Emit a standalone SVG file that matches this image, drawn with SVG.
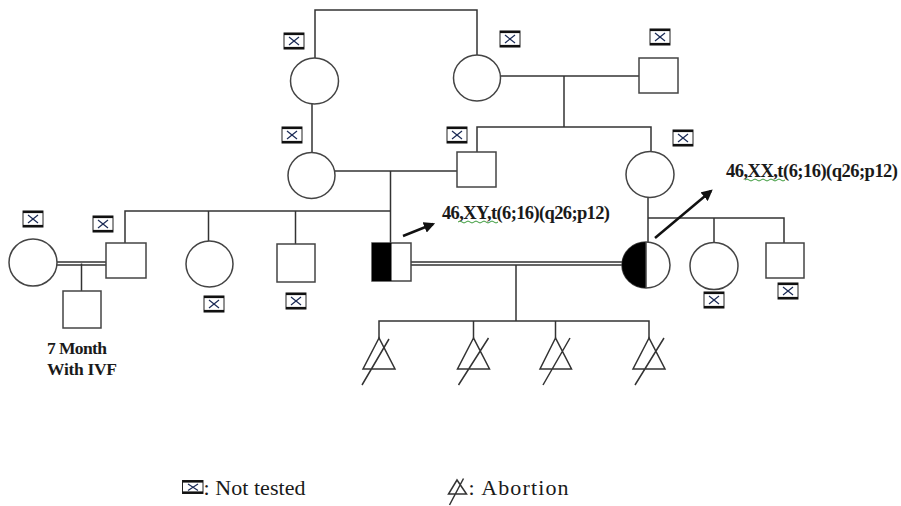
<svg xmlns="http://www.w3.org/2000/svg" width="901" height="506" viewBox="0 0 901 506">
<style>
.ln{fill:none;stroke:#333;stroke-width:1.5}
.sh{fill:#fff;stroke:#444;stroke-width:1.5}
.nt rect{fill:#fff;stroke:#222;stroke-width:1}
.nt .tb{stroke:#111;stroke-width:2.2}
.nt .x{stroke:#1a2a55;stroke-width:1.2}
.ar{fill:none;stroke:#111;stroke-width:2.5;marker-end:url(#ah)}
.kt{font-family:"Liberation Serif","Times New Roman",serif;font-size:18.5px;font-weight:bold;fill:#1a1a1a}
.lb{font-family:"Liberation Serif","Times New Roman",serif;font-size:17.5px;font-weight:bold;fill:#1a1a1a}
.lg{font-family:"Liberation Serif","Times New Roman",serif;font-size:22px;fill:#1a1a1a}
.sq{fill:none;stroke:#3a9a3a;stroke-width:1}
</style>
<defs>
<marker id="ah" viewBox="0 0 10 10" refX="8" refY="5" markerWidth="4.5" markerHeight="4.5" orient="auto" markerUnits="strokeWidth">
<path d="M0,0 L10,5 L0,10 Z" fill="#111"/>
</marker>
<g id="ntb" class="nt">
<rect x="0" y="0" width="20" height="16"/>
<line class="tb" x1="0" y1="1" x2="20" y2="1"/>
<line class="tb" x1="0" y1="15" x2="20" y2="15"/>
<line class="x" x1="5" y1="4" x2="15" y2="12"/>
<line class="x" x1="15" y1="4" x2="5" y2="12"/>
</g>
</defs>
<rect width="901" height="506" fill="#fff"/>

<g id="connectors">
<path class="ln" d="M315,58 V10 H477 V55"/>
<path class="ln" d="M500,76 H639"/>
<path class="ln" d="M564,76 V127"/>
<path class="ln" d="M477,152 V127 H651 V152"/>
<path class="ln" d="M312,104 V152"/>
<path class="ln" d="M335,171 H457"/>
<path class="ln" d="M390.5,171 V243"/>
<path class="ln" d="M125,243 V211 H390.5"/>
<path class="ln" d="M208.5,211 V241"/>
<path class="ln" d="M295.5,211 V244"/>
<path class="ln" d="M57,262 H106 M57,265 H106"/>
<path class="ln" d="M81.5,263.5 V291"/>
<path class="ln" d="M411,262 H622 M411,265 H622"/>
<path class="ln" d="M516,265 V321"/>
<path class="ln" d="M648,197 V242"/>
<path class="ln" d="M648,218 H784 V243"/>
<path class="ln" d="M714,218 V243"/>
<path class="ln" d="M379,338 V321 H649 V338"/>
<path class="ln" d="M473.5,321 V338"/>
<path class="ln" d="M555.5,321 V338"/>
<path class="ar" d="M403,236 L433,224"/>
<path class="ar" d="M655,238 L711,191"/>
</g>

<g id="I-1"><ellipse class="sh" cx="314.5" cy="81" rx="24" ry="23"/><use href="#ntb" x="284" y="33"/></g>
<g id="I-2"><ellipse class="sh" cx="477" cy="78" rx="23.5" ry="23"/><use href="#ntb" x="500" y="31"/></g>
<g id="I-3"><rect class="sh" x="639" y="58" width="39" height="35"/><use href="#ntb" x="650" y="29"/></g>
<g id="II-1"><ellipse class="sh" cx="311.5" cy="175.5" rx="23.5" ry="23"/><use href="#ntb" x="282" y="127"/></g>
<g id="II-2"><rect class="sh" x="457" y="152" width="39" height="35"/><use href="#ntb" x="447" y="127"/></g>
<g id="II-3"><ellipse class="sh" cx="650" cy="174.5" rx="24" ry="23"/><use href="#ntb" x="673" y="130"/></g>
<g id="III-1"><ellipse class="sh" cx="33" cy="262.5" rx="24" ry="23.5"/><use href="#ntb" x="23" y="211"/></g>
<g id="III-2"><rect class="sh" x="106" y="243" width="40" height="35"/><use href="#ntb" x="93" y="216"/></g>
<g id="IV-1"><rect class="sh" x="63" y="291" width="38" height="37"/>
<text class="lb" x="47" y="354" textLength="60">7 Month</text>
<text class="lb" x="47" y="375" textLength="70">With IVF</text></g>
<g id="III-3"><ellipse class="sh" cx="209.5" cy="264" rx="23.5" ry="23"/><use href="#ntb" x="204" y="296"/></g>
<g id="III-4"><rect class="sh" x="277" y="244" width="38" height="38"/><use href="#ntb" x="286" y="293"/></g>
<g id="III-5"><rect class="sh" x="372" y="243" width="39" height="38"/><rect x="372" y="243" width="19.5" height="38" fill="#000"/>
<text class="kt" x="442" y="219" textLength="168">46,XY,t(6;16)(q26;p12)</text>
<path class="sq" d="M458,222 q2,-2 4,0 t4,0 t4,0 t4,0 t4,0 t4,0 t4,0 t4,0 t4,0 t4,0"/></g>
<g id="III-6"><ellipse class="sh" cx="646" cy="265" rx="24" ry="23"/><path d="M646,242 A24,23 0 0 0 646,288 Z" fill="#000"/><line x1="646" y1="242" x2="646" y2="288" stroke="#444" stroke-width="1.5"/>
<text class="kt" x="726" y="177" textLength="172">46,XX,t(6;16)(q26;p12)</text>
<path class="sq" d="M745,180 q2,-2 4,0 t4,0 t4,0 t4,0 t4,0 t4,0 t4,0 t4,0 t4,0 t4,0"/></g>
<g id="III-7"><ellipse class="sh" cx="714" cy="266" rx="24" ry="23.5"/><use href="#ntb" x="704" y="292"/></g>
<g id="III-8"><rect class="sh" x="766" y="243" width="38" height="35"/><use href="#ntb" x="778" y="283"/></g>

<g id="IV-2"><path class="ln" d="M379,338 L363,369 H395 Z M362,385 L389,339"/></g>
<g id="IV-3"><path class="ln" d="M473.5,338 L457.5,369 H489.5 Z M458.5,385 L488.5,338"/></g>
<g id="IV-4"><path class="ln" d="M555.5,338 L540,369 H571.5 Z M543,385 L570,338"/></g>
<g id="IV-5"><path class="ln" d="M649,338 L633,369 H665 Z M635,385 L664,338"/></g>

<g id="legend">
<g class="nt"><rect x="182.5" y="480.5" width="20.5" height="13"/>
<line class="tb" x1="182.5" y1="481.5" x2="203" y2="481.5"/>
<line class="tb" x1="182.5" y1="492.5" x2="203" y2="492.5"/>
<line class="x" x1="188" y1="484" x2="198" y2="490.5"/>
<line class="x" x1="198" y1="484" x2="188" y2="490.5"/></g>
<text class="lg" x="203.5" y="495" textLength="102">: Not tested</text>
<path class="ln" d="M457,480 L448.5,494 H466.5 Z M449.5,505 L463.5,478.5"/>
<text class="lg" x="468.5" y="495" textLength="100">: Abortion</text>
</g>
</svg>
